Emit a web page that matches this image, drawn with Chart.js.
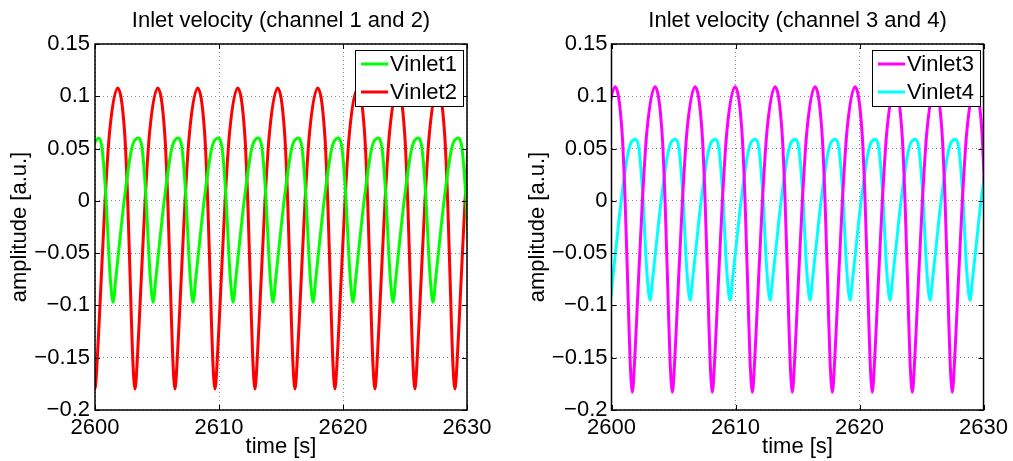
<!DOCTYPE html>
<html>
<head>
<meta charset="utf-8">
<script src="https://cdn.jsdelivr.net/npm/chart.js@4.4.0/dist/chart.umd.min.js"></script>
<style>
  html, body { margin: 0; padding: 0; background: #fff; }
  #wrap { position: relative; width: 1013px; height: 461px; }
  canvas { position: absolute; top: 0; }
</style>
</head>
<body>
<div id="wrap">
  <canvas id="chart1" width="506" height="461" style="left:0"></canvas>
  <canvas id="chart2" width="507" height="461" style="left:506px"></canvas>
</div>
<script>
// axis ticks (shared by both panels)
const xTicks = [2600, 2610, 2620, 2630];
const xTickLabels = ['2600', '2610', '2620', '2630'];
const yTicks = [-0.2, -0.15, -0.1, -0.05, 0, 0.05, 0.1, 0.15];
const yTickLabels = ['\u22120.2', '\u22120.15', '\u22120.1', '\u22120.05', '0', '0.05', '0.1', '0.15'];

// Vinlet1 (green)
const time1 = [
  2599.74,
  2600.30, 2600.57, 2600.90, 2601.11, 2601.24, 2601.46, 2601.67, 2601.89, 2602.35, 2602.96,
  2603.53, 2603.80, 2604.13, 2604.34, 2604.47, 2604.69, 2604.90, 2605.12, 2605.58, 2606.19,
  2606.75, 2607.02, 2607.35, 2607.56, 2607.69, 2607.91, 2608.12, 2608.34, 2608.80, 2609.41,
  2609.98, 2610.25, 2610.58, 2610.79, 2610.92, 2611.14, 2611.35, 2611.57, 2612.03, 2612.64,
  2613.20, 2613.47, 2613.80, 2614.01, 2614.14, 2614.36, 2614.57, 2614.79, 2615.25, 2615.86,
  2616.43, 2616.70, 2617.03, 2617.24, 2617.37, 2617.59, 2617.80, 2618.02, 2618.48, 2619.09,
  2619.65, 2619.92, 2620.25, 2620.46, 2620.59, 2620.81, 2621.02, 2621.24, 2621.70, 2622.31,
  2622.88, 2623.15, 2623.48, 2623.69, 2623.82, 2624.04, 2624.25, 2624.47, 2624.93, 2625.54,
  2626.10, 2626.37, 2626.70, 2626.91, 2627.04, 2627.26, 2627.47, 2627.69, 2628.15, 2628.76,
  2629.33, 2629.60, 2629.93, 2630.14
];
const vinlet1 = [
  0.050,
  0.060, 0.050, 0.000, -0.050, -0.075, -0.097, -0.075, -0.050, 0.000, 0.050,
  0.060, 0.050, 0.000, -0.050, -0.075, -0.097, -0.075, -0.050, 0.000, 0.050,
  0.060, 0.050, 0.000, -0.050, -0.075, -0.097, -0.075, -0.050, 0.000, 0.050,
  0.060, 0.050, 0.000, -0.050, -0.075, -0.097, -0.075, -0.050, 0.000, 0.050,
  0.060, 0.050, 0.000, -0.050, -0.075, -0.097, -0.075, -0.050, 0.000, 0.050,
  0.060, 0.050, 0.000, -0.050, -0.075, -0.097, -0.075, -0.050, 0.000, 0.050,
  0.060, 0.050, 0.000, -0.050, -0.075, -0.097, -0.075, -0.050, 0.000, 0.050,
  0.060, 0.050, 0.000, -0.050, -0.075, -0.097, -0.075, -0.050, 0.000, 0.050,
  0.060, 0.050, 0.000, -0.050, -0.075, -0.097, -0.075, -0.050, 0.000, 0.050,
  0.060, 0.050, 0.000, -0.050
];

// Vinlet2 (red)
const time2 = [
  2599.82,
  2600.00, 2600.19, 2600.40, 2600.81, 2601.17, 2601.83, 2602.39, 2602.64, 2602.90, 2603.04,
  2603.23, 2603.42, 2603.63, 2604.04, 2604.40, 2605.06, 2605.62, 2605.87, 2606.13, 2606.27,
  2606.45, 2606.64, 2606.85, 2607.26, 2607.62, 2608.28, 2608.84, 2609.09, 2609.35, 2609.49,
  2609.68, 2609.87, 2610.08, 2610.49, 2610.85, 2611.51, 2612.07, 2612.32, 2612.58, 2612.72,
  2612.90, 2613.09, 2613.30, 2613.71, 2614.07, 2614.73, 2615.29, 2615.54, 2615.80, 2615.94,
  2616.13, 2616.32, 2616.53, 2616.94, 2617.30, 2617.96, 2618.52, 2618.77, 2619.03, 2619.17,
  2619.35, 2619.54, 2619.75, 2620.16, 2620.52, 2621.18, 2621.74, 2621.99, 2622.25, 2622.39,
  2622.58, 2622.77, 2622.98, 2623.39, 2623.75, 2624.41, 2624.97, 2625.22, 2625.48, 2625.62,
  2625.80, 2625.99, 2626.20, 2626.61, 2626.97, 2627.63, 2628.19, 2628.44, 2628.70, 2628.84,
  2629.03, 2629.22, 2629.43, 2629.84, 2630.20
];
const vinlet2 = [
  -0.150,
  -0.180, -0.150, -0.100, 0.000, 0.065, 0.108, 0.065, 0.000, -0.100, -0.150,
  -0.180, -0.150, -0.100, 0.000, 0.065, 0.108, 0.065, 0.000, -0.100, -0.150,
  -0.180, -0.150, -0.100, 0.000, 0.065, 0.108, 0.065, 0.000, -0.100, -0.150,
  -0.180, -0.150, -0.100, 0.000, 0.065, 0.108, 0.065, 0.000, -0.100, -0.150,
  -0.180, -0.150, -0.100, 0.000, 0.065, 0.108, 0.065, 0.000, -0.100, -0.150,
  -0.180, -0.150, -0.100, 0.000, 0.065, 0.108, 0.065, 0.000, -0.100, -0.150,
  -0.180, -0.150, -0.100, 0.000, 0.065, 0.108, 0.065, 0.000, -0.100, -0.150,
  -0.180, -0.150, -0.100, 0.000, 0.065, 0.108, 0.065, 0.000, -0.100, -0.150,
  -0.180, -0.150, -0.100, 0.000, 0.065, 0.108, 0.065, 0.000, -0.100, -0.150,
  -0.180, -0.150, -0.100, 0.000, 0.065
];

// Vinlet3 (magenta)
const time3 = [
  2599.27, 2599.63, 2600.29, 2600.85, 2601.10, 2601.36, 2601.50,
  2601.68, 2601.87, 2602.08, 2602.49, 2602.85, 2603.51, 2604.07, 2604.32, 2604.58, 2604.72,
  2604.91, 2605.10, 2605.31, 2605.72, 2606.08, 2606.74, 2607.30, 2607.55, 2607.81, 2607.95,
  2608.13, 2608.32, 2608.53, 2608.94, 2609.30, 2609.96, 2610.52, 2610.77, 2611.03, 2611.17,
  2611.36, 2611.55, 2611.76, 2612.17, 2612.53, 2613.19, 2613.75, 2614.00, 2614.26, 2614.40,
  2614.58, 2614.77, 2614.98, 2615.39, 2615.75, 2616.41, 2616.97, 2617.22, 2617.48, 2617.62,
  2617.81, 2618.00, 2618.21, 2618.62, 2618.98, 2619.64, 2620.20, 2620.45, 2620.71, 2620.85,
  2621.03, 2621.22, 2621.43, 2621.84, 2622.20, 2622.86, 2623.42, 2623.67, 2623.93, 2624.07,
  2624.26, 2624.45, 2624.66, 2625.07, 2625.43, 2626.09, 2626.65, 2626.90, 2627.16, 2627.30,
  2627.48, 2627.67, 2627.88, 2628.29, 2628.65, 2629.31, 2629.87, 2630.12
];
const vinlet3 = [
  0.000, 0.066, 0.109, 0.066, 0.000, -0.100, -0.152,
  -0.183, -0.152, -0.100, 0.000, 0.066, 0.109, 0.066, 0.000, -0.100, -0.152,
  -0.183, -0.152, -0.100, 0.000, 0.066, 0.109, 0.066, 0.000, -0.100, -0.152,
  -0.183, -0.152, -0.100, 0.000, 0.066, 0.109, 0.066, 0.000, -0.100, -0.152,
  -0.183, -0.152, -0.100, 0.000, 0.066, 0.109, 0.066, 0.000, -0.100, -0.152,
  -0.183, -0.152, -0.100, 0.000, 0.066, 0.109, 0.066, 0.000, -0.100, -0.152,
  -0.183, -0.152, -0.100, 0.000, 0.066, 0.109, 0.066, 0.000, -0.100, -0.152,
  -0.183, -0.152, -0.100, 0.000, 0.066, 0.109, 0.066, 0.000, -0.100, -0.152,
  -0.183, -0.152, -0.100, 0.000, 0.066, 0.109, 0.066, 0.000, -0.100, -0.152,
  -0.183, -0.152, -0.100, 0.000, 0.066, 0.109, 0.066, 0.000
];

// Vinlet4 (cyan)
const time4 = [
  2599.54, 2599.67, 2599.89, 2600.10, 2600.32, 2600.78, 2601.39,
  2601.95, 2602.22, 2602.55, 2602.76, 2602.89, 2603.11, 2603.32, 2603.54, 2604.00, 2604.61,
  2605.18, 2605.45, 2605.78, 2605.99, 2606.12, 2606.34, 2606.55, 2606.77, 2607.23, 2607.84,
  2608.40, 2608.67, 2609.00, 2609.21, 2609.34, 2609.56, 2609.77, 2609.99, 2610.45, 2611.06,
  2611.63, 2611.90, 2612.23, 2612.44, 2612.57, 2612.79, 2613.00, 2613.22, 2613.68, 2614.29,
  2614.85, 2615.12, 2615.45, 2615.66, 2615.79, 2616.01, 2616.22, 2616.44, 2616.90, 2617.51,
  2618.08, 2618.35, 2618.68, 2618.89, 2619.02, 2619.24, 2619.45, 2619.67, 2620.13, 2620.74,
  2621.30, 2621.57, 2621.90, 2622.11, 2622.24, 2622.46, 2622.67, 2622.89, 2623.35, 2623.96,
  2624.53, 2624.80, 2625.13, 2625.34, 2625.47, 2625.69, 2625.90, 2626.12, 2626.58, 2627.19,
  2627.75, 2628.02, 2628.35, 2628.56, 2628.69, 2628.91, 2629.12, 2629.34, 2629.80, 2630.41
];
const vinlet4 = [
  -0.050, -0.074, -0.095, -0.074, -0.050, 0.000, 0.049,
  0.059, 0.049, 0.000, -0.050, -0.074, -0.095, -0.074, -0.050, 0.000, 0.049,
  0.059, 0.049, 0.000, -0.050, -0.074, -0.095, -0.074, -0.050, 0.000, 0.049,
  0.059, 0.049, 0.000, -0.050, -0.074, -0.095, -0.074, -0.050, 0.000, 0.049,
  0.059, 0.049, 0.000, -0.050, -0.074, -0.095, -0.074, -0.050, 0.000, 0.049,
  0.059, 0.049, 0.000, -0.050, -0.074, -0.095, -0.074, -0.050, 0.000, 0.049,
  0.059, 0.049, 0.000, -0.050, -0.074, -0.095, -0.074, -0.050, 0.000, 0.049,
  0.059, 0.049, 0.000, -0.050, -0.074, -0.095, -0.074, -0.050, 0.000, 0.049,
  0.059, 0.049, 0.000, -0.050, -0.074, -0.095, -0.074, -0.050, 0.000, 0.049,
  0.059, 0.049, 0.000, -0.050, -0.074, -0.095, -0.074, -0.050, 0.000, 0.049
];

const FONT = "'Liberation Sans', Arial, Helvetica, sans-serif";
Chart.defaults.font.family = FONT;
Chart.defaults.font.size = 22;
Chart.defaults.color = '#000';

// matlab style: box, inward ticks, boxed legend in the top right corner
const matlabBox = {
  id: 'matlabBox',
  afterDatasetsDraw(chart) {
    const { ctx, chartArea: a, scales: { x, y } } = chart;
    ctx.save();
    ctx.strokeStyle = '#000';
    ctx.lineWidth = 1;
    ctx.beginPath();
    x.ticks.forEach(t => {
      const px = Math.round(x.getPixelForValue(t.value)) + 0.5;
      ctx.moveTo(px, a.bottom); ctx.lineTo(px, a.bottom - 5);
      ctx.moveTo(px, a.top); ctx.lineTo(px, a.top + 5);
    });
    y.ticks.forEach(t => {
      const py = Math.round(y.getPixelForValue(t.value)) + 0.5;
      ctx.moveTo(a.left, py); ctx.lineTo(a.left + 5, py);
      ctx.moveTo(a.right, py); ctx.lineTo(a.right - 5, py);
    });
    ctx.stroke();
    ctx.lineWidth = 1.5;
    ctx.strokeRect(a.left, a.top, a.right - a.left, a.bottom - a.top);

    // legend
    const bw = 108, bh = 56;
    const bx = Math.round(a.right - 112), by = Math.round(a.top + 6);
    ctx.fillStyle = '#fff';
    ctx.fillRect(bx, by, bw, bh);
    ctx.lineWidth = 1;
    ctx.strokeStyle = '#000';
    ctx.strokeRect(bx + 0.5, by + 0.5, bw, bh);
    ctx.font = '22px ' + FONT;
    ctx.textBaseline = 'middle';
    ctx.textAlign = 'left';
    chart.data.datasets.forEach((ds, i) => {
      const ry = by + 14 + i * 28;
      ctx.strokeStyle = ds.borderColor;
      ctx.lineWidth = 3;
      ctx.beginPath();
      ctx.moveTo(bx + 6, ry);
      ctx.lineTo(bx + 33, ry);
      ctx.stroke();
      ctx.fillStyle = '#000';
      ctx.fillText(ds.label, bx + 35, ry + 1);
    });
    ctx.restore();
  }
};

function makeChart(id, title, series, yWidth, yTitlePad, yTickPad, padRight) {
  return new Chart(document.getElementById(id), {
    type: 'line',
    data: {
      datasets: series.map(s => ({
        label: s.label,
        data: s.t.map((t, i) => ({ x: t, y: s.v[i] })),
        borderColor: s.color,
        borderWidth: 3,
        pointRadius: 0,
        fill: false,
        cubicInterpolationMode: 'monotone',
        clip: 0
      }))
    },
    options: {
      responsive: false,
      animation: false,
      events: [],
      layout: { padding: { left: 0, top: 0, right: padRight, bottom: 0 } },
      scales: {
        x: {
          type: 'linear',
          min: 2600,
          max: 2630,
          afterBuildTicks: s => { s.ticks = xTicks.map(v => ({ value: v })); },
          afterFit: s => { s.height = 51; },
          ticks: {
            padding: 5,
            maxRotation: 0,
            autoSkip: false,
            callback: (v, i) => xTickLabels[i]
          },
          grid: { color: '#8a8a8a', lineWidth: 1, drawTicks: false },
          border: { display: false, dash: [1, 3] },
          title: { display: true, text: 'time [s]', padding: { top: 0, bottom: 1 } }
        },
        y: {
          type: 'linear',
          min: -0.2,
          max: 0.15,
          afterBuildTicks: s => { s.ticks = yTicks.map(v => ({ value: v })); },
          afterFit: s => { s.width = yWidth; },
          ticks: {
            padding: yTickPad,
            autoSkip: false,
            callback: (v, i) => yTickLabels[i]
          },
          grid: { color: '#8a8a8a', lineWidth: 1, drawTicks: false },
          border: { display: false, dash: [1, 3] },
          title: { display: true, text: 'amplitude [a.u.]', padding: { top: yTitlePad, bottom: 0 } }
        }
      },
      plugins: {
        legend: { display: false },
        tooltip: { enabled: false },
        title: {
          display: true,
          text: title,
          fullSize: false,
          color: '#000',
          font: { size: 22, weight: 'normal' },
          padding: { top: 7.5, bottom: 10.1 }
        }
      }
    },
    plugins: [matlabBox]
  });
}

makeChart('chart1', 'Inlet velocity (channel 1 and 2)', [
  { label: 'Vinlet1', t: time1, v: vinlet1, color: '#00ff00' },
  { label: 'Vinlet2', t: time2, v: vinlet2, color: '#ff0000' }
], 95, 6.3, 5, 39);

makeChart('chart2', 'Inlet velocity (channel 3 and 4)', [
  { label: 'Vinlet3', t: time3, v: vinlet3, color: '#ff00ff' },
  { label: 'Vinlet4', t: time4, v: vinlet4, color: '#00ffff' }
], 105.5, 18.3, 4, 29);
</script>
</body>
</html>
